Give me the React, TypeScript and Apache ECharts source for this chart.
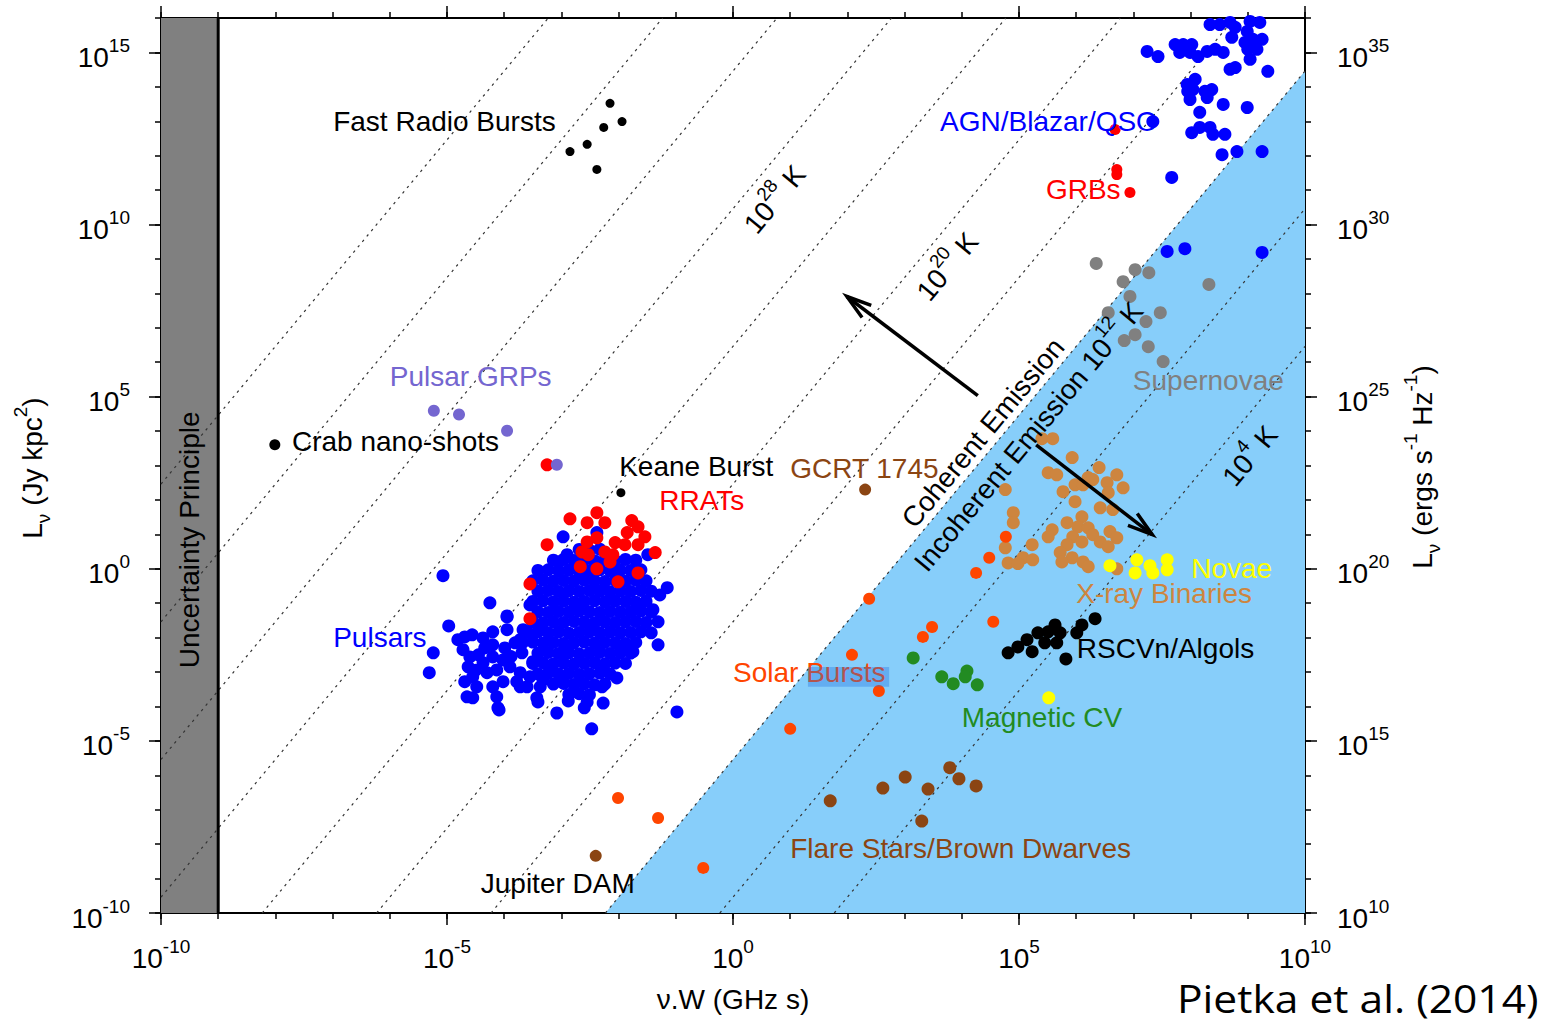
import React, { useEffect, useRef } from "react";
import * as echarts from "echarts";

const FONT = '"Liberation Sans", Arial, Helvetica, sans-serif';

// ---- axes (log10 exponents) ----
const X_MIN = -10;
const X_MAX = 10;
const Y_MIN = -10;
const Y_MAX = 16;
const Y_RIGHT_OFFSET = 20; // erg s^-1 Hz^-1 = Jy kpc^2 * 1e20
const majorTicksX = [-10, -5, 0, 5, 10];
const majorTicksY = [-10, -5, 0, 5, 10, 15];

// brightness temperature iso-lines: log L = log T + 2 log(nuW) - TB_CONST
const tbExponents = [4, 8, 12, 16, 20, 24, 28, 32, 36, 40];
const TB_CONST = 17.54;
const coherenceLimitExp = 12;
const uncertaintyLimit = -9;

// ---- data: [log10(nu W / GHz s), log10(L / Jy kpc^2)] ----
const fastRadioBursts: [number, number][] = [
  [-2.15, 13.52], [-1.94, 12.99], [-2.26, 12.82], [-2.55, 12.33], [-2.85, 12.12], [-2.38, 11.6],
];
const crabNanoShots: [number, number][] = [[-8.01, 3.6]];
const pulsarGRPs: [number, number][] = [[-5.23, 4.59], [-4.79, 4.48], [-3.95, 4.01], [-3.08, 3.02]];
const keaneBurst: [number, number][] = [[-1.96, 2.21]];
const gcrt1745: [number, number][] = [[2.31, 2.3]];
const jupiterDAM: [number, number][] = [[-2.4, -8.34]];

const rrats: [number, number][] = [
  [-2.85, 1.45], [-2.55, 1.34], [-2.38, 1.63], [-2.24, 1.34], [-1.77, 1.4], [-3.25, 0.7],
  [-2.55, 0.78], [-2.38, 0.9], [-2.64, 0.49], [-2.53, 0.41], [-2.67, 0.06], [-2.38, 0.0],
  [-2.24, 0.49], [-2.06, 0.76], [-1.89, 0.7], [-2.1, 0.41], [-2.15, 0.2], [-1.85, 1.05],
  [-1.66, 1.22], [-1.54, 0.93], [-1.66, 0.7], [-1.36, 0.47], [-1.66, -0.12], [-2.01, -0.38],
  [-3.55, -0.44], [-3.55, -1.45], [-3.25, 3.02],
];

const grbs: [number, number][] = [[6.68, 12.76], [6.71, 11.6], [6.71, 11.45], [6.94, 10.93]];

const agnBlazarQSO: [number, number][] = [
  [8.34, 15.81], [8.51, 15.81], [8.69, 15.87], [8.78, 15.73], [8.72, 15.44], [9.04, 15.9],
  [9.21, 15.87], [8.99, 15.61], [8.95, 15.29], [9.09, 15.38], [9.25, 15.38], [9.0, 15.09],
  [9.16, 15.09], [9.04, 14.8], [7.24, 15.03], [7.43, 14.88], [7.73, 15.23], [7.87, 15.23],
  [8.02, 15.23], [7.81, 15.0], [7.99, 15.0], [8.13, 14.88], [8.29, 15.03], [8.43, 15.09],
  [8.57, 15.0], [8.69, 14.51], [8.78, 14.56], [9.35, 14.45], [8.08, 14.22], [7.94, 14.07],
  [7.95, 13.87], [8.04, 13.92], [8.25, 13.87], [8.37, 13.92], [8.29, 13.69], [7.99, 13.63],
  [8.57, 13.49], [8.99, 13.4], [8.16, 13.26], [7.34, 12.99], [8.02, 12.67], [8.16, 12.82],
  [8.34, 12.82], [8.39, 12.62], [8.6, 12.62], [8.55, 12.03], [8.81, 12.12], [9.25, 12.12],
  [7.67, 11.37], [7.59, 9.22], [7.9, 9.3], [9.25, 9.19],
];

const supernovae: [number, number][] = [
  [6.35, 8.87], [7.03, 8.69], [7.27, 8.6], [6.82, 8.34], [6.94, 7.91], [8.32, 8.26], [6.56, 7.44],
  [7.47, 7.44], [7.22, 7.18], [7.03, 6.8], [6.84, 6.63], [7.26, 6.45], [7.52, 6.02],
];

const xrayBinaries: [number, number][] = [
  [5.4, 3.78], [5.59, 3.78], [5.93, 3.23], [6.4, 2.94], [5.51, 2.79], [5.66, 2.73], [6.71, 2.73],
  [6.21, 2.65], [6.29, 2.59], [6.54, 2.5], [5.98, 2.44], [6.12, 2.44], [6.82, 2.35], [4.76, 2.3],
  [5.77, 2.24], [6.56, 2.21], [5.98, 1.95], [6.42, 1.77], [6.64, 1.72], [4.9, 1.63], [4.9, 1.34],
  [6.1, 1.51], [5.84, 1.34], [6.03, 1.22], [6.21, 1.19], [5.58, 1.13], [6.59, 1.08], [5.51, 0.93],
  [5.94, 0.93], [6.29, 0.99], [6.71, 0.9], [6.1, 0.78], [6.42, 0.78], [6.56, 0.64], [5.23, 0.7],
  [5.84, 0.7], [4.76, 0.61], [5.72, 0.47], [5.93, 0.32], [5.07, 0.32], [5.24, 0.26], [4.81, 0.17],
  [4.98, 0.15], [5.75, 0.2], [6.12, 0.2], [6.21, 0.06], [6.71, 0.0],
];

const novae: [number, number][] = [
  [6.59, 0.09], [7.06, 0.26], [7.03, -0.12], [7.29, 0.09], [7.34, -0.12], [7.59, 0.26], [7.59, -0.03],
  [5.52, -3.75],
];

const rscvnAlgols: [number, number][] = [
  [4.81, -2.44], [4.98, -2.27], [5.14, -2.06], [5.23, -2.41], [5.33, -1.86], [5.45, -2.15],
  [5.51, -1.83], [5.63, -1.63], [5.66, -2.15], [5.72, -1.86], [6.01, -1.86], [6.1, -1.63],
  [6.33, -1.45], [5.82, -2.62],
];

const magneticCV: [number, number][] = [
  [3.15, -2.59], [3.65, -3.14], [3.85, -3.34], [4.09, -2.97], [4.06, -3.14], [4.27, -3.37],
];

const solarBursts: [number, number][] = [
  [2.38, -0.87], [3.48, -1.69], [3.32, -1.98], [4.55, -1.54], [2.08, -2.5], [2.55, -3.55],
  [1.0, -4.65], [-2.01, -6.66], [-1.31, -7.24], [-0.52, -8.69], [4.77, 0.93], [4.48, 0.32],
  [4.25, -0.12],
];

const flareStarsBrownDwarfs: [number, number][] = [
  [1.7, -6.74], [2.62, -6.37], [3.01, -6.05], [3.41, -6.4], [3.79, -5.78], [3.95, -6.1],
  [4.25, -6.31], [3.3, -7.33],
];

const pulsarCore: [number, number][] = [
  [-2.69, 0.56], [-2.51, 0.54], [-2.33, 0.57],
  [-3.14, 0.25], [-2.96, 0.27], [-2.78, 0.24], [-2.6, 0.26], [-2.42, 0.23], [-2.24, 0.26], [-2.06, 0.24], [-1.88, 0.27], [-1.7, 0.25],
  [-3.41, -0.05], [-3.23, -0.03], [-3.05, -0.06], [-2.87, -0.04], [-2.69, -0.07], [-2.51, -0.05], [-2.33, -0.03], [-2.15, -0.06], [-1.97, -0.04], [-1.79, -0.05], [-1.61, -0.03],
  [-3.5, -0.35], [-3.32, -0.33], [-3.14, -0.36], [-2.96, -0.34], [-2.78, -0.36], [-2.6, -0.33], [-2.42, -0.35], [-2.24, -0.37], [-2.06, -0.34], [-1.88, -0.36], [-1.7, -0.33], [-1.52, -0.35],
  [-3.41, -0.65], [-3.23, -0.63], [-3.05, -0.66], [-2.87, -0.64], [-2.69, -0.66], [-2.51, -0.63], [-2.33, -0.65], [-2.15, -0.67], [-1.97, -0.64], [-1.79, -0.66], [-1.61, -0.63], [-1.43, -0.65],
  [-3.5, -0.95], [-3.32, -0.93], [-3.14, -0.96], [-2.96, -0.94], [-2.78, -0.97], [-2.6, -0.95], [-2.42, -0.93], [-2.24, -0.96], [-2.06, -0.94], [-1.88, -0.95], [-1.7, -0.97], [-1.52, -0.94],
  [-3.41, -1.25], [-3.23, -1.27], [-3.05, -1.24], [-2.87, -1.26], [-2.69, -1.23], [-2.51, -1.25], [-2.33, -1.27], [-2.15, -1.24], [-1.97, -1.26], [-1.79, -1.25], [-1.61, -1.23], [-1.43, -1.26],
  [-3.5, -1.55], [-3.32, -1.57], [-3.14, -1.54], [-2.96, -1.56], [-2.78, -1.53], [-2.6, -1.55], [-2.42, -1.57], [-2.24, -1.54], [-2.06, -1.56], [-1.88, -1.55], [-1.7, -1.53], [-1.52, -1.56],
  [-3.59, -1.85], [-3.41, -1.83], [-3.23, -1.86], [-3.05, -1.84], [-2.87, -1.87], [-2.69, -1.85], [-2.51, -1.83], [-2.33, -1.86], [-2.15, -1.84], [-1.97, -1.86], [-1.79, -1.85], [-1.61, -1.83], [-1.43, -1.86],
  [-3.68, -2.15], [-3.5, -2.13], [-3.32, -2.16], [-3.14, -2.14], [-2.96, -2.17], [-2.78, -2.15], [-2.6, -2.13], [-2.42, -2.16], [-2.24, -2.14], [-2.06, -2.15], [-1.88, -2.17], [-1.7, -2.14],
  [-3.41, -2.45], [-3.23, -2.43], [-3.05, -2.46], [-2.87, -2.44], [-2.69, -2.47], [-2.51, -2.45], [-2.33, -2.43], [-2.15, -2.46], [-1.97, -2.44], [-1.79, -2.45],
  [-3.5, -2.75], [-3.32, -2.73], [-3.14, -2.76], [-2.96, -2.74], [-2.78, -2.77], [-2.6, -2.75], [-2.42, -2.73], [-2.24, -2.76], [-2.06, -2.74], [-1.88, -2.75],
  [-3.41, -3.05], [-3.23, -3.03], [-3.05, -3.06], [-2.87, -3.04], [-2.69, -3.07], [-2.51, -3.05], [-2.33, -3.03], [-2.15, -3.06],
  [-3.14, -3.35], [-2.96, -3.33], [-2.78, -3.36], [-2.6, -3.34], [-2.42, -3.37], [-2.24, -3.35],
  [-2.87, -3.65], [-2.69, -3.63], [-2.51, -3.66],
];

const pulsarLobe: [number, number][] = [
  [-4.81, -2.06], [-4.69, -1.98], [-4.56, -1.92], [-4.37, -2.01], [-4.2, -1.83], [-3.95, -1.77],
  [-3.95, -1.4], [-3.72, -2.06], [-4.72, -2.35], [-4.6, -2.56], [-4.34, -2.3], [-4.2, -2.21],
  [-3.99, -2.3], [-4.2, -2.56], [-4.02, -2.65], [-4.37, -2.73], [-4.63, -2.85], [-4.55, -3.14],
  [-4.69, -3.28], [-4.3, -3.02], [-4.13, -2.94], [-3.9, -2.85], [-3.72, -3.02], [-3.78, -3.28],
  [-3.55, -3.14], [-4.02, -3.28], [-4.48, -3.43], [-4.2, -3.43], [-3.6, -3.43], [-3.37, -3.43],
  [-4.65, -3.72], [-4.55, -3.75], [-4.13, -3.72], [-4.11, -4.04], [-3.72, -3.43], [-3.32, -3.23],
  [-3.5, -2.7], [-3.69, -2.44], [-3.81, -2.15], [-4.45, -2.5], [-4.5, -2.95], [-3.88, -2.55],
];

const pulsarOutliers: [number, number][] = [
  [-5.07, -0.2], [-4.25, -0.99], [-3.95, -1.37], [-4.97, -1.66], [-5.24, -2.44], [-5.31, -3.02],
  [-2.9, 0.41], [-3.04, 0.2], [-2.97, 0.93], [-2.38, 1.05], [-1.49, 0.41], [-1.15, -0.55],
  [-1.28, -0.76], [-1.31, -2.21], [-1.75, -2.41], [-1.4, -1.19], [-1.31, -1.54], [-2.03, -3.17],
  [-2.29, -3.43], [-2.27, -3.9], [-2.47, -4.65], [-3.08, -4.19], [-2.88, -3.84], [-3.43, -3.75],
  [-2.6, -4.04], [-2.55, -3.87], [-0.98, -4.16], [-3.55, -1.05], [-3.67, -1.77], [-4.09, -4.1],
  [-3.41, -3.87],
];

// ---- annotation anchors (left edge / vertical middle), in axis units ----
const categoryLabels = [
  { text: "Fast Radio Bursts", color: "#000000", at: [-6.99, 12.99] },
  { text: "AGN/Blazar/QSO", color: "#0000ff", at: [3.62, 12.99] },
  { text: "GRBs", color: "#ff0000", at: [5.47, 11.02] },
  { text: "Pulsar GRPs", color: "#7466d0", at: [-6.0, 5.58] },
  { text: "Crab nano-shots", color: "#000000", at: [-7.71, 3.69] },
  { text: "Keane Burst", color: "#000000", at: [-1.99, 2.97] },
  { text: "GCRT 1745", color: "#8b4513", at: [1.0, 2.91] },
  { text: "RRATs", color: "#ff0000", at: [-1.29, 1.98] },
  { text: "Pulsars", color: "#0000ff", at: [-6.99, -2.01] },
  { text: "Solar Bursts", color: "#ff4500", at: [0.0, -3.02] },
  { text: "Magnetic CV", color: "#228b22", at: [4.0, -4.33] },
  { text: "Flare Stars/Brown Dwarves", color: "#8b4513", at: [1.0, -8.14] },
  { text: "Jupiter DAM", color: "#000000", at: [-4.41, -9.13] },
  { text: "RSCVn/Algols", color: "#000000", at: [6.01, -2.33] },
  { text: "X-ray Binaries", color: "#cd853f", at: [6.0, -0.73] },
  { text: "Novae", color: "#ffff00", at: [8.01, 0.0] },
  { text: "Supernovae", color: "#808080", at: [6.99, 5.47] },
];

const tempLabels = [
  { base: "10", sup: "28", tail: " K", at: [0.73, 10.73] },
  { base: "10", sup: "20", tail: " K", at: [3.75, 8.78] },
  { base: "Incoherent Emission 10", sup: "12", tail: " K", at: [5.17, 3.84] },
  { base: "10", sup: "4", tail: " K", at: [9.04, 3.28] },
];
const coherentLabelAt = [4.37, 3.95];
const uncertaintyLabelAt = [-9.5, 0.84];
const burstsHighlight = [[1.31, -2.85], [2.73, -3.43]];
const arrows = [
  { from: [4.28, 5.03], to: [1.99, 7.91] },
  { from: [5.3, 3.6], to: [7.33, 0.99] },
];

// ---------------------------------------------------------------

const tickRich = {
  b: { fontSize: 28, fontFamily: FONT, color: "#000", lineHeight: 30 },
  s: { fontSize: 19, fontFamily: FONT, color: "#000", lineHeight: 30, padding: [0, 0, 24, 0] },
};

function tickFmt(v: number) {
  const r = Math.round(v);
  if (Math.abs(v - r) > 1e-6 || r % 5 !== 0) return "";
  return `{b|10}{s|${r}}`;
}

function isoLine(t: number): [number, number][] {
  const yAt = (x: number) => 2 * x + t - TB_CONST;
  const x0 = Math.max(X_MIN, (Y_MIN - t + TB_CONST) / 2);
  const x1 = Math.min(X_MAX, (Y_MAX - t + TB_CONST) / 2);
  return [[x0, yAt(x0)], [x1, yAt(x1)]];
}

function baseAxis(extra: any) {
  return {
    type: "value",
    splitLine: { show: false },
    axisLine: { show: true, onZero: false, lineStyle: { color: "#000", width: 2 } },
    axisTick: { show: true, length: 6, lineStyle: { color: "#000", width: 1.5 } },
    axisLabel: { show: false },
    ...extra,
  };
}

function overlayAxis(position: string, min: number, max: number, ticks: number[]) {
  return {
    type: "value",
    position,
    min,
    max,
    interval: 5,
    splitLine: { show: false },
    axisLine: { show: false, onZero: false },
    axisTick: { show: true, length: 12, customValues: ticks, lineStyle: { color: "#000", width: 1.5 } },
    axisLabel: { show: false },
  };
}

function scatter(name: string, data: [number, number][], color: string, size: number) {
  return {
    type: "scatter",
    name,
    data,
    symbol: "circle",
    symbolSize: size,
    silent: true,
    itemStyle: { color, opacity: 1, borderWidth: 0 },
    z: 5,
  };
}

function buildOption() {
  const coh = isoLine(coherenceLimitExp);
  const series: any[] = [
    {
      type: "line",
      name: "incoherent region",
      data: [[coh[0][0], Y_MIN], [X_MAX, 2 * X_MAX + coherenceLimitExp - TB_CONST]],
      symbol: "none",
      silent: true,
      lineStyle: { width: 0 },
      areaStyle: { color: "#87cefa", opacity: 1, origin: "start" },
      z: 1,
    },
    {
      type: "line",
      name: "uncertainty",
      data: [[X_MIN, Y_MAX], [uncertaintyLimit, Y_MAX]],
      symbol: "none",
      silent: true,
      lineStyle: { width: 0 },
      areaStyle: { color: "#808080", opacity: 1, origin: "start" },
      z: 1,
    },
    ...tbExponents.map((t) => ({
      type: "line",
      name: `T=1e${t}`,
      data: isoLine(t),
      symbol: "none",
      silent: true,
      clip: true,
      lineStyle: { color: "#333", width: 1.2, type: [2.5, 4.5] },
      z: 2,
    })),
    {
      type: "line",
      name: "uncertainty edge",
      data: [[uncertaintyLimit, Y_MIN], [uncertaintyLimit, Y_MAX]],
      symbol: "none",
      silent: true,
      lineStyle: { color: "#000", width: 3 },
      z: 3,
    },
    scatter("Pulsars", [...pulsarCore, ...pulsarLobe, ...pulsarOutliers], "#0000ff", 13),
    scatter("RRATs", rrats, "#ff0000", 13),
    scatter("Pulsar GRPs", pulsarGRPs, "#7466d0", 12),
    scatter("Crab nano-shots", crabNanoShots, "#000000", 11),
    scatter("Fast Radio Bursts", fastRadioBursts, "#000000", 9),
    scatter("Keane Burst", keaneBurst, "#000000", 9),
    scatter("GCRT 1745", gcrt1745, "#8b4513", 12),
    scatter("Jupiter DAM", jupiterDAM, "#8b4513", 12),
    scatter("AGN/Blazar/QSO", agnBlazarQSO, "#0000ff", 13),
    scatter("GRBs", grbs, "#ff0000", 11),
    scatter("Supernovae", supernovae, "#808080", 13),
    scatter("X-ray Binaries", xrayBinaries, "#cd853f", 13),
    scatter("Novae", novae, "#ffff00", 13),
    scatter("RSCVn/Algols", rscvnAlgols, "#000000", 13),
    scatter("Magnetic CV", magneticCV, "#228b22", 13),
    scatter("Solar Bursts", solarBursts, "#ff4500", 12),
    scatter("Flare Stars/Brown Dwarves", flareStarsBrownDwarfs, "#8b4513", 13),
  ];

  return {
    animation: false,
    backgroundColor: "#ffffff",
    grid: { left: 161, right: 249, top: 18, bottom: 111, containLabel: false },
    xAxis: [
      baseAxis({
        position: "bottom",
        min: X_MIN,
        max: X_MAX,
        interval: 1,
        axisLabel: { show: true, margin: 30, formatter: tickFmt, rich: tickRich, color: "#000" },
      }),
      baseAxis({ position: "top", min: X_MIN, max: X_MAX, interval: 1 }),
      overlayAxis("bottom", X_MIN, X_MAX, majorTicksX),
      overlayAxis("top", X_MIN, X_MAX, majorTicksX),
    ],
    yAxis: [
      baseAxis({
        position: "left",
        min: Y_MIN,
        max: Y_MAX,
        interval: 1,
        axisLabel: { show: true, margin: 31, padding: [10, 0, 0, 0], formatter: tickFmt, rich: tickRich, color: "#000" },
      }),
      baseAxis({
        position: "right",
        min: Y_MIN + Y_RIGHT_OFFSET,
        max: Y_MAX + Y_RIGHT_OFFSET,
        interval: 1,
        axisLabel: { show: true, margin: 32, padding: [10, 0, 0, 0], formatter: tickFmt, rich: tickRich, color: "#000" },
      }),
      overlayAxis("left", Y_MIN, Y_MAX, majorTicksY),
      overlayAxis("right", Y_MIN, Y_MAX, majorTicksY),
    ],
    series,
  };
}

const richGraphic = (color: string) => ({
  b: { fontSize: 28, fontFamily: FONT, fill: color, lineHeight: 30 },
  s: { fontSize: 19, fontFamily: FONT, fill: color, lineHeight: 30, padding: [0, 0, 24, 0] },
});

const nameRich = {
  n: { fontSize: 28, fontFamily: FONT, fill: "#000", lineHeight: 30 },
  sub: { fontSize: 19, fontFamily: FONT, fill: "#000", lineHeight: 30, padding: [22, 0, 0, 0] },
  sup: { fontSize: 19, fontFamily: FONT, fill: "#000", lineHeight: 30, padding: [0, 0, 24, 0] },
};

function buildGraphics(toPx: (p: number[]) => number[]) {
  const els: any[] = [];
  const p0 = toPx([0, 0]);
  const p1 = toPx([1, 2]);
  const angle = Math.atan2(-(p1[1] - p0[1]), p1[0] - p0[0]);

  for (const l of categoryLabels) {
    const [x, y] = toPx(l.at);
    els.push({
      type: "text",
      x,
      y,
      z: 100,
      silent: true,
      style: {
        text: l.text,
        fill: l.color,
        fontSize: 28,
        fontFamily: FONT,
        align: "left",
        verticalAlign: "middle",
        textAlign: "left",
        textVerticalAlign: "middle",
      },
    });
  }

  // highlight box over "Bursts"
  {
    const a = toPx(burstsHighlight[0]);
    const b = toPx(burstsHighlight[1]);
    els.push({
      type: "rect",
      z: 101,
      silent: true,
      shape: { x: a[0], y: a[1], width: b[0] - a[0], height: b[1] - a[1] },
      style: { fill: "rgba(31,111,224,0.35)" },
    });
  }

  for (const t of tempLabels) {
    const [x, y] = toPx(t.at);
    els.push({
      type: "text",
      x,
      y,
      rotation: angle,
      z: 100,
      silent: true,
      style: {
        text: `{b|${t.base}}{s|${t.sup}}{b|${t.tail}}`,
        rich: richGraphic("#000"),
        align: "center",
        verticalAlign: "middle",
        textAlign: "center",
        textVerticalAlign: "middle",
      },
    });
  }

  {
    const [x, y] = toPx(coherentLabelAt);
    els.push({
      type: "text",
      x,
      y,
      rotation: angle,
      z: 100,
      silent: true,
      style: {
        text: "Coherent Emission",
        fill: "#000",
        fontSize: 28,
        fontFamily: FONT,
        align: "center",
        verticalAlign: "middle",
        textAlign: "center",
        textVerticalAlign: "middle",
      },
    });
  }

  {
    const [x, y] = toPx(uncertaintyLabelAt);
    els.push({
      type: "text",
      x,
      y,
      rotation: Math.PI / 2,
      z: 100,
      silent: true,
      style: {
        text: "Uncertainty Principle",
        fill: "#000",
        fontSize: 28,
        fontFamily: FONT,
        align: "center",
        verticalAlign: "middle",
        textAlign: "center",
        textVerticalAlign: "middle",
      },
    });
  }

  for (const a of arrows) {
    const s = toPx(a.from);
    const e = toPx(a.to);
    const dx = s[0] - e[0];
    const dy = s[1] - e[1];
    const len = Math.hypot(dx, dy);
    const ux = dx / len;
    const uy = dy / len;
    const headLen = 26;
    const spread = (17 * Math.PI) / 180;
    const rot = (ang: number) => [
      e[0] + headLen * (ux * Math.cos(ang) - uy * Math.sin(ang)),
      e[1] + headLen * (ux * Math.sin(ang) + uy * Math.cos(ang)),
    ];
    els.push({
      type: "line",
      z: 102,
      silent: true,
      shape: { x1: s[0], y1: s[1], x2: e[0], y2: e[1] },
      style: { stroke: "#000", lineWidth: 3.5 },
    });
    els.push({
      type: "polyline",
      z: 102,
      silent: true,
      shape: { points: [rot(spread), [e[0], e[1]], rot(-spread)] },
      style: { stroke: "#000", lineWidth: 3.5, fill: "none", lineJoin: "miter" },
    });
  }

  // axis names
  els.push({
    type: "text",
    x: 32,
    y: 468,
    rotation: Math.PI / 2,
    z: 100,
    silent: true,
    style: {
      text: "{n|L}{sub|ν}{n| (Jy kpc}{sup|2}{n|)}",
      rich: nameRich,
      align: "center",
      verticalAlign: "middle",
      textAlign: "center",
      textVerticalAlign: "middle",
    },
  });
  els.push({
    type: "text",
    x: 1422,
    y: 467,
    rotation: Math.PI / 2,
    z: 100,
    silent: true,
    style: {
      text: "{n|L}{sub|ν}{n| (ergs s}{sup|-1}{n| Hz}{sup|-1}{n|)}",
      rich: nameRich,
      align: "center",
      verticalAlign: "middle",
      textAlign: "center",
      textVerticalAlign: "middle",
    },
  });
  els.push({
    type: "text",
    x: 733,
    y: 999,
    z: 100,
    silent: true,
    style: {
      text: "ν.W (GHz s)",
      fill: "#000",
      fontSize: 28,
      fontFamily: FONT,
      align: "center",
      verticalAlign: "middle",
      textAlign: "center",
      textVerticalAlign: "middle",
    },
  });
  els.push({
    type: "text",
    x: 1177,
    y: 998,
    scaleX: 1.12,
    z: 100,
    silent: true,
    style: {
      text: "Pietka et al. (2014)",
      fill: "#000",
      fontSize: 38,
      fontFamily: '"Open Sans", "Liberation Sans", sans-serif',
      align: "left",
      verticalAlign: "middle",
      textAlign: "left",
      textVerticalAlign: "middle",
    },
  });
  return els;
}

export default function App() {
  const ref = useRef<HTMLDivElement>(null);
  useEffect(() => {
    if (!ref.current) return;
    const chart = echarts.init(ref.current, null, { renderer: "svg" });
    chart.setOption(buildOption() as any);
    const grid = { left: 161, right: 1305, top: 18, bottom: 913 };
    const toPx = (p: number[]): number[] => {
      const r = chart.convertToPixel({ xAxisIndex: 0, yAxisIndex: 0 } as any, p) as any;
      if (Array.isArray(r) && isFinite(r[0]) && isFinite(r[1])) return r;
      return [
        grid.left + ((p[0] - X_MIN) / (X_MAX - X_MIN)) * (grid.right - grid.left),
        grid.bottom - ((p[1] - Y_MIN) / (Y_MAX - Y_MIN)) * (grid.bottom - grid.top),
      ];
    };
    chart.setOption({ graphic: buildGraphics(toPx) } as any);
    return () => chart.dispose();
  }, []);
  return (
    <div
      ref={ref}
      style={{ position: "absolute", left: 0, top: 0, width: 1554, height: 1024, background: "#ffffff" }}
    />
  );
}
